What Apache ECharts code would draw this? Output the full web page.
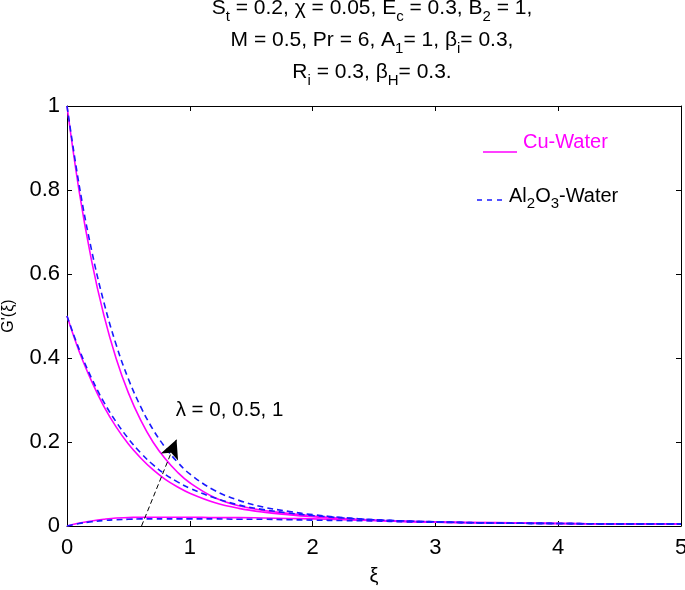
<!DOCTYPE html>
<html><head><meta charset="utf-8">
<script src="https://cdn.jsdelivr.net/npm/echarts@6/dist/echarts.min.js"></script>
<style>html,body{margin:0;padding:0;background:#fff}#c{width:685px;height:590px}</style>
</head><body><div id="c"></div>
<script>
// ---- data ----
const xi    = [0,0.1,0.2,0.3,0.4,0.5,0.6,0.7,0.8,0.9,1.0,1.2,1.4,1.6,1.8,2.0,2.25,2.5,2.75,3.0,3.5,4.0,4.5,5.0];
const cuL1  = [1.0,0.795,0.632,0.502,0.399,0.317,0.252,0.200,0.160,0.128,0.103,0.068,0.048,0.037,0.030,0.024,0.018,0.014,0.011,0.009,0.007,0.006,0.005,0.005];
const alL1  = [1.0,0.810,0.657,0.533,0.432,0.350,0.284,0.230,0.187,0.152,0.124,0.085,0.061,0.045,0.035,0.027,0.020,0.015,0.012,0.010,0.007,0.006,0.005,0.005];
const cuL05 = [0.5,0.415,0.345,0.285,0.236,0.195,0.162,0.134,0.111,0.093,0.078,0.056,0.042,0.033,0.027,0.022,0.017,0.013,0.011,0.009,0.007,0.006,0.005,0.005];
const alL05 = [0.5,0.420,0.352,0.295,0.248,0.208,0.174,0.146,0.123,0.105,0.090,0.067,0.050,0.039,0.031,0.025,0.019,0.015,0.012,0.010,0.007,0.006,0.005,0.005];
const cuL0  = [0.0,0.007,0.012,0.016,0.019,0.020,0.021,0.021,0.021,0.021,0.021,0.020,0.020,0.019,0.018,0.017,0.015,0.013,0.011,0.010,0.008,0.006,0.005,0.005];
const alL0  = [0.0,0.006,0.010,0.013,0.015,0.016,0.017,0.017,0.017,0.017,0.017,0.017,0.016,0.016,0.015,0.014,0.013,0.012,0.010,0.009,0.007,0.006,0.005,0.005];
const xTickLabels = ['0','1','2','3','4','5'];
const yTickLabels = ['0','0.2','0.4','0.6','0.8','1'];
const arrowStart = [0.607, 0.0];
const arrowEnd   = [0.892, 0.206];
const lambdaLabelPos = [0.885, 0.276];
const lambdaLabel = 'λ = 0, 0.5, 1';
const cuName = 'Cu-Water';
const alName = 'Al2O3-Water';

// ---- chart ----
const FONT = 'Liberation Sans, Arial, sans-serif';
const MAG = '#ff00ff', BLU = '#1a1aff';
const chart = echarts.init(document.getElementById('c'), null, {renderer:'canvas'});
const pair = a => a.map((v,i)=>[xi[i], v]);

function curve(name, data, color, dashed){
  return {
    name, type:'line', data: pair(data), smooth:0.4,
    symbol:'none', xAxisIndex:0, yAxisIndex:0,
    lineStyle:{color, width:1.6, type: dashed ? [6,4] : 'solid'},
    emphasis:{disabled:true}, z: dashed ? 3 : 2
  };
}

const axisCommon = {
  axisLine:{show:true, onZero:false, lineStyle:{color:'#000', width:1}},
  axisTick:{show:true, inside:true, length:5, lineStyle:{color:'#000'}},
  splitLine:{show:false}
};

const series = [
  curve(cuName, cuL1, MAG, false),
  curve(cuName, cuL05, MAG, false),
  curve(cuName, cuL0, MAG, false),
  curve(alName, alL1, BLU, true),
  curve(alName, alL05, BLU, true),
  curve(alName, alL0, BLU, true),
  {
    type:'line', data:[], xAxisIndex:0, yAxisIndex:0, silent:true,
    markLine:{
      silent:true, symbol:['none','arrow'], symbolSize:[14,19],
      lineStyle:{color:'#000', width:1, type:[5,3]},
      label:{show:false},
      data:[[{coord:arrowStart},{coord:arrowEnd}]]
    },
    markPoint:{
      silent:true, symbol:'circle', symbolSize:0,
      itemStyle:{color:'rgba(0,0,0,0)'},
      label:{show:true, position:'right', distance:0, formatter:lambdaLabel,
             color:'#000', fontSize:20.5, fontFamily:FONT},
      data:[{coord:lambdaLabelPos}]
    }
  }
];

const titleRich = {
  m:{fontSize:21, lineHeight:32, fontFamily:FONT, color:'#111', verticalAlign:'middle'},
  s:{fontSize:15, lineHeight:14, fontFamily:FONT, color:'#111', verticalAlign:'bottom'}
};
const titleText =
  '{m|S}{s|t}{m| = 0.2, χ = 0.05, E}{s|c}{m| = 0.3, B}{s|2}{m| = 1,}\n' +
  '{m|M = 0.5, Pr = 6, A}{s|1}{m|= 1, β}{s|i}{m|= 0.3,}\n' +
  '{m|R}{s|i}{m| = 0.3, β}{s|H}{m|= 0.3.}';

const option = {
  animation:false,
  backgroundColor:'#fff',
  grid:{left:67, right:4, top:106, bottom:64, containLabel:false, outerBoundsMode:'none'},
  xAxis:[
    Object.assign({type:'value', min:0, max:5, interval:1, position:'bottom',
      name:'ξ', nameLocation:'middle', nameGap:40,
      nameTextStyle:{fontSize:20, fontFamily:FONT, color:'#000'},
      axisLabel:{show:true, margin:11, fontSize:22, fontFamily:FONT, color:'#000',
                 hideOverlap:false, showMinLabel:true, showMaxLabel:true,
                 formatter:(v)=>xTickLabels[Math.round(v)]}}, axisCommon),
    Object.assign({type:'value', min:0, max:5, interval:1, position:'top',
      axisLabel:{show:false}}, axisCommon)
  ],
  yAxis:[
    Object.assign({type:'value', min:0, max:1, interval:0.2, position:'left',
      name:"G'(ξ)", nameLocation:'middle', nameGap:50, nameRotate:90,
      nameTextStyle:{fontSize:16, fontFamily:FONT, color:'#000'},
      axisLabel:{show:true, margin:7, fontSize:22, fontFamily:FONT, color:'#000',
                 showMinLabel:true, showMaxLabel:true,
                 formatter:(v)=>yTickLabels[Math.round(v*5)]}}, axisCommon),
    Object.assign({type:'value', min:0, max:1, interval:0.2, position:'right',
      axisLabel:{show:false}}, axisCommon)
  ],
  series,
  graphic:[
    {type:'text', x:372, y:-8, z:10,
     style:{text:titleText, rich:titleRich, align:'center', verticalAlign:'top'}},
    {type:'line', z:10, shape:{x1:483, y1:152, x2:517, y2:152},
     style:{stroke:MAG, lineWidth:1.6}},
    {type:'text', x:523, y:142, z:10,
     style:{text:cuName, fill:MAG, fontSize:20, fontFamily:FONT, align:'left', verticalAlign:'middle'}},
    {type:'line', z:10, shape:{x1:477, y1:200, x2:503, y2:200},
     style:{stroke:BLU, lineWidth:1.6, lineDash:[5,5]}},
    {type:'text', x:509, y:181, z:10,
     style:{text:'{m|Al}{s|2}{m|O}{s|3}{m|-Water}', align:'left', verticalAlign:'top',
       rich:{
         m:{fontSize:20, lineHeight:30, fontFamily:FONT, color:BLU, verticalAlign:'middle'},
         s:{fontSize:15, lineHeight:14, fontFamily:FONT, color:BLU, verticalAlign:'bottom'}
       }}}
  ]
};
chart.setOption(option);
</script>
</body></html>
